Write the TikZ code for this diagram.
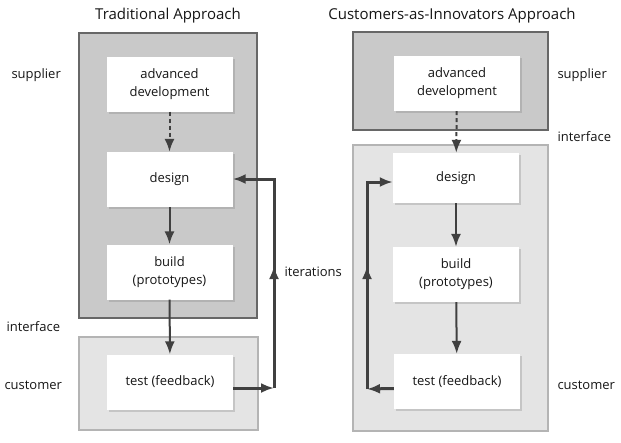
\documentclass[tikz,border=0pt]{standalone}
\usepackage{fontspec}
\setmainfont{Open Sans}
\usetikzlibrary{arrows.meta, positioning, shadows}

\definecolor{supfill}{HTML}{C9C9C9}
\definecolor{supedge}{HTML}{676767}
\definecolor{cusfill}{HTML}{E4E4E4}
\definecolor{cusedge}{HTML}{B4B4B4}
\definecolor{arrgray}{HTML}{404040}
\definecolor{txtgray}{HTML}{161616}

\tikzset{
  stage/.style={fill=white, minimum width=126pt, minimum height=55pt, align=center,
    text=txtgray, font=\fontsize{13}{18}\selectfont,
    drop shadow={shadow xshift=2pt, shadow yshift=-2pt, opacity=0.3}},
  side/.style={anchor=west, text=txtgray, font=\fontsize{13}{16}\selectfont},
  head/.style={text=txtgray, font=\fontsize{15}{18}\selectfont},
  flow/.style={-{Latex[length=13pt,width=10pt]}, line width=2pt, draw=arrgray},
  iter/.style={line width=3pt, draw=arrgray},
  itertip/.style={iter, -{Latex[length=13pt,width=10pt]}},
}

\begin{document}
\begin{tikzpicture}[x=1pt, y=-1pt]
        \useasboundingbox (0,0) rectangle (621,442);

        % Traditional approach
        \node[head] (ltitle) at (168,16) {Traditional Approach};
        \draw[line width=2pt, draw=supedge, fill=supfill] (79,33) rectangle (257,318);
        \draw[line width=2pt, draw=cusedge, fill=cusfill] (79,337) rectangle (258,430);

        \node[stage] (ladv) at (169.5,84) {advanced\\development};
        \node[stage] (ldes) at (169.5,179.5) {design};
        \node[stage] (lbld) at (169.5,272) {build\\(prototypes)};
        \node[stage] (ltst) at (170,382) {test (feedback)};

        \draw[flow, dash pattern=on 4pt off 3pt] (ladv) -- (ldes);
        \draw[flow] (ldes) -- (lbld);
        \draw[flow] (lbld) -- (ltst);

        % Feedback loop (left)
        \coordinate (lc1) at (274,388);
        \coordinate (lcm) at (274,266);
        \coordinate (lc2) at (274,179);
        \draw[itertip] ([yshift=-6pt]ltst.east) -- (lc1);
        \draw[itertip] (lc1) -- (lc2) -- (ldes.east |- lc2);
        \draw[itertip] (lc1) -- (lcm);
        \node[side] (liter) at (281,272) {iterations};

        \node[side] (lsup) at (8,75) {supplier};
        \node[side] (lint) at (3,327) {interface};
        \node[side] (lcus) at (1,385) {customer};

        % Customers-as-innovators approach
        \node[head] (rtitle) at (452,16) {Customers-as-Innovators Approach};
        \draw[line width=2pt, draw=supedge, fill=supfill] (353,32) rectangle (548,130);
        \draw[line width=2pt, draw=cusedge, fill=cusfill] (353,145) rectangle (548,431);

        \node[stage] (radv) at (457,83.5) {advanced\\development};
        \node[stage, minimum height=50pt] (rdes) at (456,178) {design};
        \node[stage] (rbld) at (456,274.5) {build\\(prototypes)};
        \node[stage] (rtst) at (457,381.5) {test (feedback)};

        \draw[flow, dash pattern=on 4pt off 3pt] (radv) -- (rdes);
        \draw[flow] (rdes) -- (rbld);
        \draw[flow] (rbld) -- (rtst);

        % Feedback loop (right)
        \coordinate (rc1) at (367,389);
        \coordinate (rcm) at (367,266);
        \coordinate (rc2) at (367,182);
        \draw[itertip] ([yshift=-7pt]rtst.west) -- (rc1);
        \draw[itertip] (rc1) -- (rc2) -- (rdes.west |- rc2);
        \draw[itertip] (rc1) -- (rcm);

        \node[side] (rsup) at (554,75) {supplier};
        \node[side] (rint) at (554,137) {interface};
        \node[side] (rcus) at (554,385) {customer};
\end{tikzpicture}
\end{document}
